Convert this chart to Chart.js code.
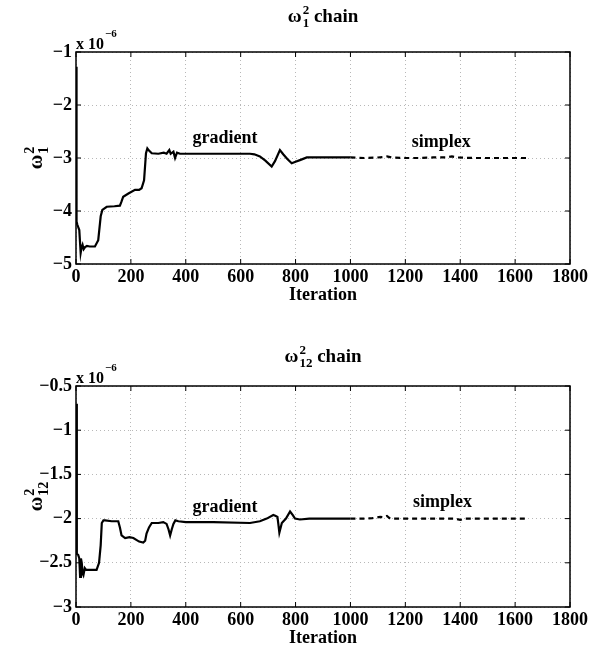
<!DOCTYPE html>
<html>
<head>
<meta charset="utf-8">
<script src="https://cdn.jsdelivr.net/npm/chart.js@4"></script>
<style>
  html, body { margin: 0; padding: 0; background: #fff; }
  .box { width: 603px; height: 325px; }
</style>
</head>
<body>
<div class="box"><canvas id="chain1" width="603" height="325"></canvas></div>
<div class="box"><canvas id="chain12" width="603" height="325"></canvas></div>
<script>
// values in units of 1e-6
const xTicks = [0, 200, 400, 600, 800, 1000, 1200, 1400, 1600, 1800];

const gradIter1 = [0, 2, 5, 12, 17, 20, 24, 28, 33, 40, 50, 69, 81, 90, 96, 112, 140, 160, 166, 172, 191, 215, 230, 239, 248, 255, 260, 266, 276, 300, 320, 330, 340, 345, 355, 361, 368, 379, 420, 525, 634, 650, 670, 690, 713, 725, 743, 755, 770, 786, 800, 816, 841, 900, 1000];
const gradVal1 = [-1.28, -4.2, -4.26, -4.36, -4.79, -4.7, -4.64, -4.72, -4.68, -4.66, -4.67, -4.67, -4.55, -4.1, -3.98, -3.92, -3.91, -3.9, -3.82, -3.73, -3.67, -3.6, -3.6, -3.57, -3.42, -2.91, -2.82, -2.86, -2.91, -2.92, -2.9, -2.92, -2.85, -2.92, -2.88, -3.0, -2.9, -2.92, -2.92, -2.92, -2.92, -2.93, -2.97, -3.05, -3.16, -3.06, -2.85, -2.93, -3.02, -3.1, -3.07, -3.04, -2.99, -2.99, -2.99];
const simpIter1 = [1000, 1050, 1100, 1120, 1133, 1150, 1200, 1250, 1300, 1350, 1370, 1390, 1450, 1500, 1550, 1600, 1640];
const simpVal1 = [-2.99, -3.0, -2.99, -2.98, -2.97, -2.99, -3.0, -3.0, -2.99, -2.99, -2.97, -2.99, -3.0, -3.0, -3.0, -3.0, -3.0];
const yTicks1 = [-5, -4, -3, -2, -1];

const gradIter12 = [0, 3, 8, 12, 15, 18, 21, 24, 27, 32, 37, 50, 75, 84, 90, 94, 100, 106, 130, 154, 160, 166, 179, 195, 209, 230, 245, 252, 257, 266, 276, 300, 318, 330, 337, 343, 349, 355, 362, 373, 400, 500, 634, 670, 695, 719, 728, 734, 738, 741, 750, 765, 780, 790, 798, 816, 850, 1000];
const gradVal12 = [-0.7, -2.4, -2.41, -2.45, -2.66, -2.45, -2.5, -2.62, -2.64, -2.56, -2.58, -2.58, -2.58, -2.5, -2.3, -2.05, -2.02, -2.02, -2.03, -2.03, -2.1, -2.19, -2.22, -2.21, -2.22, -2.26, -2.27, -2.25, -2.17, -2.1, -2.05, -2.05, -2.04, -2.06, -2.12, -2.19, -2.12, -2.06, -2.02, -2.03, -2.04, -2.04, -2.05, -2.03, -2.0, -1.96, -1.97, -1.98, -2.08, -2.16, -2.05, -2.0, -1.92, -1.96, -2.0, -2.01, -2.0, -2.0];
const simpIter12 = [1000, 1050, 1080, 1108, 1120, 1133, 1145, 1200, 1300, 1380, 1400, 1420, 1500, 1600, 1640];
const simpVal12 = [-2.0, -2.0, -1.995, -1.98, -1.985, -1.97, -2.0, -2.0, -2.0, -2.0, -2.015, -2.0, -2.0, -2.0, -2.0];
const yTicks12 = [-3, -2.5, -2, -1.5, -1, -0.5];

const FONT = '"Liberation Serif", "DejaVu Serif", serif';

function pts(xs, ys) {
    return xs.map((x, i) => ({ x: x, y: ys[i] }));
}

function minus(v) {
    return String(v).replace('-', '\u2212');
}

// draws base with stacked superscript/subscript, returns width
function scripted(ctx, x, y, base, sup, sub, size, measureOnly) {
    ctx.font = 'bold ' + size + 'px ' + FONT;
    const w = ctx.measureText(base).width;
    const small = Math.round(size * 0.7);
    ctx.font = 'bold ' + small + 'px ' + FONT;
    const sw = Math.max(ctx.measureText(sup).width, ctx.measureText(sub).width);
    if (!measureOnly) {
        ctx.font = 'bold ' + size + 'px ' + FONT;
        ctx.fillText(base, x, y);
        ctx.font = 'bold ' + small + 'px ' + FONT;
        ctx.fillText(sup, x + w + 1, y - size * 0.42);
        ctx.fillText(sub, x + w + 1, y + size * 0.28);
    }
    return w + sw + 1;
}

const decor = {
    id: 'decor',
    afterDraw(chart, args, o) {
        const ctx = chart.ctx;
        const a = chart.chartArea;
        const xs = chart.scales.x, ys = chart.scales.y;
        ctx.save();
        ctx.fillStyle = '#000';
        ctx.strokeStyle = '#000';
        ctx.textAlign = 'left';
        ctx.textBaseline = 'alphabetic';

        // box and inward ticks
        ctx.lineWidth = 1.5;
        ctx.strokeRect(a.left, a.top, a.right - a.left, a.bottom - a.top);
        ctx.lineWidth = 1;
        ctx.beginPath();
        xs.ticks.forEach(t => {
            const px = xs.getPixelForValue(t.value);
            ctx.moveTo(px, a.bottom); ctx.lineTo(px, a.bottom - 5);
            ctx.moveTo(px, a.top); ctx.lineTo(px, a.top + 5);
        });
        ys.ticks.forEach(t => {
            const py = ys.getPixelForValue(t.value);
            ctx.moveTo(a.left, py); ctx.lineTo(a.left + 5, py);
            ctx.moveTo(a.right, py); ctx.lineTo(a.right - 5, py);
        });
        ctx.stroke();

        // title
        const cx = (a.left + a.right) / 2;
        ctx.font = 'bold 19px ' + FONT;
        const tail = ' chain';
        const tailW = ctx.measureText(tail).width;
        const headW = scripted(ctx, 0, 0, '\u03c9', '2', o.sub, 19, true);
        let tx = cx - (headW + tailW) / 2;
        tx += scripted(ctx, tx, o.titleY, '\u03c9', '2', o.sub, 19);
        ctx.font = 'bold 19px ' + FONT;
        ctx.fillText(tail, tx, o.titleY);

        // y label, rotated
        ctx.save();
        const cy = (a.top + a.bottom) / 2;
        const lw = scripted(ctx, 0, 0, '\u03c9', '2', o.sub, 20, true);
        ctx.translate(42, cy);
        ctx.rotate(-Math.PI / 2);
        scripted(ctx, -lw / 2, 0, '\u03c9', '2', o.sub, 20);
        ctx.restore();

        // exponent note
        ctx.font = 'bold 16px ' + FONT;
        ctx.fillText('x 10', a.left, a.top - 3);
        const ew = ctx.measureText('x 10').width;
        ctx.font = 'bold 11px ' + FONT;
        ctx.fillText('\u22126', a.left + ew + 1, a.top - 15);

        // x label
        ctx.font = 'bold 18px ' + FONT;
        ctx.textAlign = 'center';
        ctx.fillText('Iteration', cx, a.bottom + 36);

        // phase labels
        ctx.textBaseline = 'middle';
        o.notes.forEach(n => {
            ctx.fillText(n.text, xs.getPixelForValue(n.x), ys.getPixelForValue(n.y));
        });
        ctx.restore();
    }
};

function makeChain(id, gx, gy, sx, sy, yt, opt) {
    const ctx = document.getElementById(id);
    new Chart(ctx, {
        type: 'line',
        data: {
            datasets: [{
                label: 'gradient',
                data: pts(gx, gy),
                borderColor: '#000',
                borderWidth: 2.2,
                pointRadius: 0,
                tension: 0
            }, {
                label: 'simplex',
                data: pts(sx, sy),
                borderColor: '#000',
                borderWidth: 2.2,
                borderDash: [5, 4],
                pointRadius: 0,
                tension: 0
            }]
        },
        options: {
            responsive: false,
            animation: false,
            layout: { padding: { left: 0, right: 33, top: opt.top, bottom: 0 } },
            plugins: {
                legend: { display: false },
                tooltip: { enabled: false },
                decor: opt
            },
            scales: {
                x: {
                    type: 'linear',
                    min: 0, max: 1800,
                    afterBuildTicks: s => { s.ticks = xTicks.map(v => ({ value: v })); },
                    afterFit: s => { s.height = opt.xh; },
                    grid: { color: '#b8b8b8', drawTicks: false },
                    border: { display: false, dash: [1, 3] },
                    ticks: {
                        padding: 3,
                        color: '#000',
                        maxRotation: 0,
                        font: { family: FONT, weight: 'bold', size: 18 },
                        callback: v => minus(v)
                    }
                },
                y: {
                    type: 'linear',
                    min: yt[0], max: yt[yt.length - 1],
                    afterBuildTicks: s => { s.ticks = yt.map(v => ({ value: v })); },
                    afterFit: s => { s.width = 76; },
                    grid: { color: '#b8b8b8', drawTicks: false },
                    border: { display: false, dash: [1, 3] },
                    ticks: {
                        padding: 4,
                        color: '#000',
                        font: { family: FONT, weight: 'bold', size: 18 },
                        callback: v => minus(v)
                    }
                }
            }
        },
        plugins: [decor]
    });
}

document.addEventListener('DOMContentLoaded', function() {
    makeChain('chain1', gradIter1, gradVal1, simpIter1, simpVal1, yTicks1, {
        top: 52, xh: 61, titleY: 22, sub: '1',
        notes: [{ text: 'gradient', x: 543, y: -2.62 }, { text: 'simplex', x: 1331, y: -2.70 }]
    });
    makeChain('chain12', gradIter12, gradVal12, simpIter12, simpVal12, yTicks12, {
        top: 61, xh: 43, titleY: 37, sub: '12',
        notes: [{ text: 'gradient', x: 543, y: -1.87 }, { text: 'simplex', x: 1335, y: -1.82 }]
    });
});
</script>
</body>
</html>
